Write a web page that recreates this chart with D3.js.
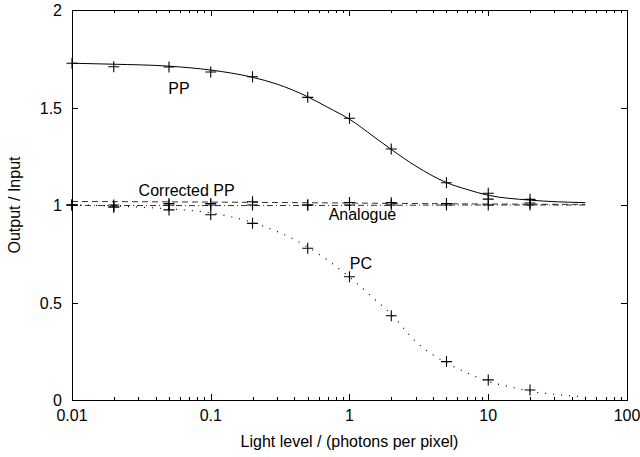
<!DOCTYPE html>
<html>
<head>
<meta charset="utf-8">
<script src="https://cdn.jsdelivr.net/npm/d3@7"></script>
<style>
  body { margin: 0; background: #fff; }
  svg { display: block; }
  text { font-family: "Liberation Sans", Arial, sans-serif; font-size: 16px; fill: #000; }
</style>
</head>
<body>
<div id="chart"></div>
<script>
// measured light levels (photons per pixel)
const levels = [0.01, 0.02, 0.05, 0.1, 0.2, 0.5, 1, 2, 5, 10, 20];
const ppPoints = [1.727, 1.709, 1.708, 1.682, 1.658, 1.552, 1.445, 1.287, 1.114, 1.060, 1.029];
const correctedPoints = [1.0, 1.0, 1.008, 1.008, 1.017, 1.0, 1.013, 1.012, 1.008, 1.03, 1.01];
const analoguePoints = [1.0, 0.99, 1.0, 1.0, 1.0, 1.0, 1.0, 1.0, 1.0, 1.0, 1.0];
const pcPoints = [1.0, 0.99, 0.975, 0.95, 0.906, 0.778, 0.632, 0.432, 0.197, 0.103, 0.051];

// fitted curves
const ppCurveX = [0.01, 0.02, 0.05, 0.1, 0.2, 0.3, 0.5, 0.7, 1, 1.5, 2, 3, 5, 7, 10, 20, 50];
const ppCurveY = [1.727, 1.722, 1.712, 1.692, 1.655, 1.62, 1.555, 1.50, 1.44, 1.35, 1.285, 1.20, 1.115, 1.08, 1.05, 1.025, 1.012];
const pcCurveX = [0.01, 0.02, 0.05, 0.1, 0.2, 0.5, 1, 1.5, 2, 3, 5, 7, 10, 15, 20, 35, 50];
const pcCurveY = [1.0, 0.995, 0.98, 0.96, 0.91, 0.785, 0.63, 0.52, 0.44, 0.30, 0.19, 0.14, 0.095, 0.065, 0.045, 0.025, 0.015];
const correctedCurveX = [0.01, 0.1, 1, 10, 50];
const correctedCurveY = [1.018, 1.015, 1.01, 1.005, 1.003];
const analogueCurveX = [0.01, 0.1, 1, 10, 50];
const analogueCurveY = [0.998, 0.997, 0.998, 1.0, 1.0];

const xTicks = [0.01, 0.1, 1, 10, 100];
const xTickLabels = ['0.01', '0.1', '1', '10', '100'];
const yTicks = [0, 0.5, 1, 1.5, 2];
const yTickLabels = ['0', '0.5', '1', '1.5', '2'];

const labelText = ['PP', 'Corrected PP', 'Analogue', 'PC'];
const labelX = [0.059, 0.067, 1.24, 1.21];
const labelY = [1.6, 1.077, 0.954, 0.705];

const width = 640, height = 457;
const margin = {top: 10, right: 13, bottom: 57, left: 72};

const svg = d3.select('#chart').append('svg')
    .attr('width', width)
    .attr('height', height);

const x = d3.scaleLog()
    .domain([0.01, 100])
    .range([margin.left, width - margin.right]);
const y = d3.scaleLinear()
    .domain([0, 2])
    .range([height - margin.bottom, margin.top]);

const x0 = margin.left, x1 = width - margin.right;
const y0 = height - margin.bottom, y1 = margin.top;

// ticks (inward, mirrored on all sides)
const ticks = svg.append('g').attr('stroke', '#000').attr('stroke-width', 1).attr('shape-rendering', 'crispEdges');
const minor = [];
for (let d = 0.01; d < 100; d *= 10)
    for (let k = 2; k <= 9; k++) minor.push(d * k);
minor.forEach(v => {
    const px = Math.round(x(v)) + 0.5;
    ticks.append('line').attr('x1', px).attr('x2', px).attr('y1', y0).attr('y2', y0 - 3);
    ticks.append('line').attr('x1', px).attr('x2', px).attr('y1', y1).attr('y2', y1 + 3);
});
xTicks.forEach(v => {
    const px = Math.round(x(v)) + 0.5;
    ticks.append('line').attr('x1', px).attr('x2', px).attr('y1', y0).attr('y2', y0 - 6);
    ticks.append('line').attr('x1', px).attr('x2', px).attr('y1', y1).attr('y2', y1 + 6);
});
yTicks.forEach(v => {
    const py = Math.round(y(v)) + 0.5;
    ticks.append('line').attr('x1', x0).attr('x2', x0 + 6).attr('y1', py).attr('y2', py);
    ticks.append('line').attr('x1', x1).attr('x2', x1 - 6).attr('y1', py).attr('y2', py);
});

// frame
svg.append('rect')
    .attr('x', x0 + 0.5).attr('y', y1 + 0.5)
    .attr('width', x1 - x0).attr('height', y0 - y1)
    .attr('fill', 'none').attr('stroke', '#000').attr('stroke-width', 1)
    .attr('shape-rendering', 'crispEdges');

// tick labels
svg.append('g').selectAll('text').data(xTicks).join('text')
    .attr('x', d => x(d)).attr('y', y0 + 21)
    .attr('text-anchor', 'middle')
    .text((d, i) => xTickLabels[i]);
svg.append('g').selectAll('text').data(yTicks).join('text')
    .attr('x', x0 - 10).attr('y', d => y(d) + 6)
    .attr('text-anchor', 'end')
    .text((d, i) => yTickLabels[i]);

// axis titles
svg.append('text')
    .attr('x', (x0 + x1) / 2).attr('y', 447)
    .attr('text-anchor', 'middle')
    .text('Light level / (photons per pixel)');
svg.append('text')
    .attr('transform', `translate(20,${(y0 + y1) / 2}) rotate(-90)`)
    .attr('text-anchor', 'middle')
    .text('Output / Input');

// curves
const line = d3.line()
    .x(d => x(d[0]))
    .y(d => y(d[1]))
    .curve(d3.curveMonotoneX);
const zip = (a, b) => a.map((v, i) => [v, b[i]]);

svg.append('path')
    .attr('d', line(zip(ppCurveX, ppCurveY)))
    .attr('fill', 'none').attr('stroke', '#000').attr('stroke-width', 1);
svg.append('path')
    .attr('d', line(zip(correctedCurveX, correctedCurveY)))
    .attr('fill', 'none').attr('stroke', '#333').attr('stroke-width', 1)
    .attr('stroke-dasharray', '6,4');
svg.append('path')
    .attr('d', line(zip(analogueCurveX, analogueCurveY)))
    .attr('fill', 'none').attr('stroke', '#333').attr('stroke-width', 1)
    .attr('stroke-dasharray', '6,3,1,3');
svg.append('path')
    .attr('d', line(zip(pcCurveX, pcCurveY)))
    .attr('fill', 'none').attr('stroke', '#000').attr('stroke-width', 1.2)
    .attr('stroke-dasharray', '1,7');

// point markers
const plus = (g, values) => {
    const s = 5.5;
    g.selectAll('path').data(zip(levels, values)).join('path')
        .attr('d', d => {
            const px = x(d[0]), py = y(d[1]);
            return `M${px - s},${py}H${px + s}M${px},${py - s}V${py + s}`;
        })
        .attr('stroke', '#000').attr('stroke-width', 1.1).attr('fill', 'none');
};
[ppPoints, correctedPoints, analoguePoints, pcPoints].forEach(vals => plus(svg.append('g'), vals));

// curve labels
svg.append('g').selectAll('text').data(labelText).join('text')
    .attr('x', (d, i) => x(labelX[i]))
    .attr('y', (d, i) => y(labelY[i]) + 6)
    .attr('text-anchor', 'middle')
    .style('paint-order', 'stroke')
    .attr('stroke', '#fff').attr('stroke-width', 0)
    .text(d => d);
</script>
</body>
</html>
